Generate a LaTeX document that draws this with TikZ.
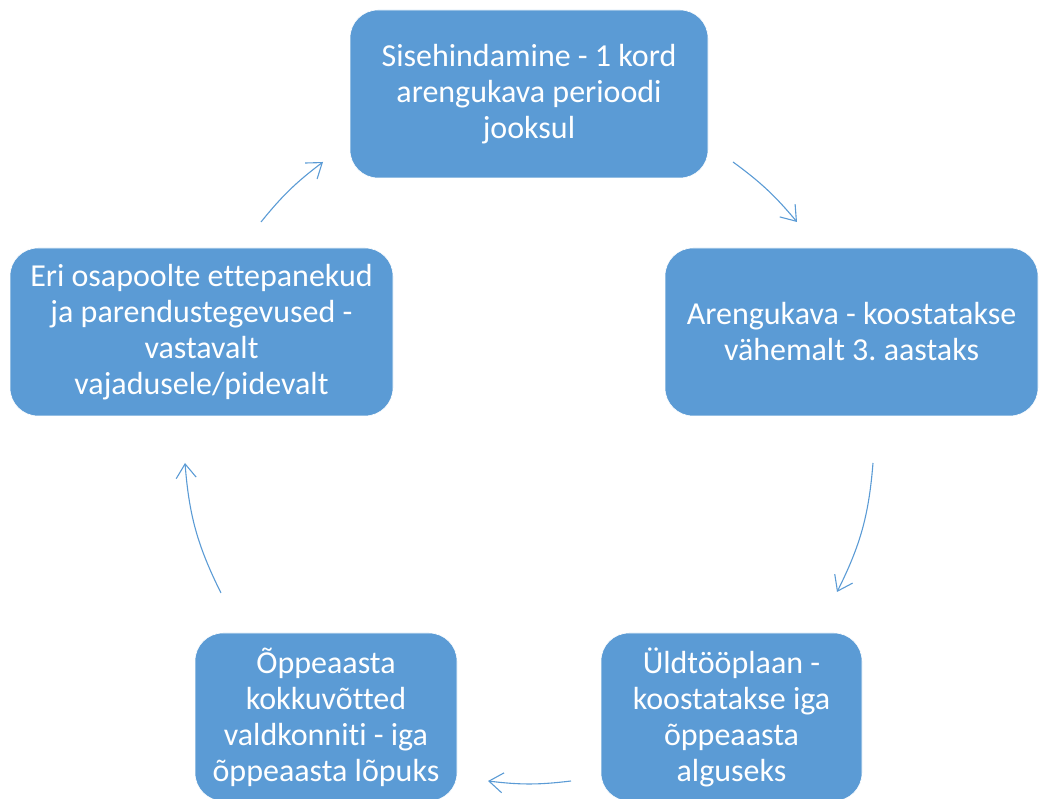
\documentclass[tikz,border=0pt]{standalone}
\usepackage{fontspec}
\setmainfont{Carlito}[Ligatures=NoCommon]
\usepackage{tikz}
\usetikzlibrary{arrows.meta,positioning}
\frenchspacing

\definecolor{boxblue}{HTML}{5B9BD5}

\begin{document}
\begin{tikzpicture}[x=1pt,y=1pt,on grid,
   stage/.style={rectangle,rounded corners=28pt,fill=boxblue,draw=white,line width=0.6pt,
      text=white,align=center,minimum height=168pt,
      font=\fontsize{32}{36}\selectfont},
   flow/.style={boxblue,line width=1.1pt,-{Straight Barb[length=14pt,width=20pt]}}]
   \useasboundingbox (0,0) rectangle (1039,799);
   \node[stage,minimum width=358pt] (sise) at (529,705) {Sisehindamine - 1 kord\\arengukava perioodi\\jooksul};
   \node[stage,minimum width=373pt] (aren) [below right=238pt and 322.5pt of sise] {Arengukava - koostatakse\\vähemalt 3. aastaks};
   \node[stage,minimum width=261pt] (yld) [below left=385pt and 120pt of aren] {Üldtööplaan -\\koostatakse iga\\õppeaasta\\alguseks};
   \node[stage,minimum width=262pt] (kokku) [left=405.5pt of yld] {Õppeaasta\\kokkuvõtted\\valdkonniti - iga\\õppeaasta lõpuks};
   \node[stage,minimum width=383pt] (eri) [above left=385pt and 124.5pt of kokku] {Eri osapoolte ettepanekud\\ja parendustegevused -\\vastavalt\\vajadusele/pidevalt};
   % arrow ends
   \coordinate (a1) at (733,637);  \coordinate (b1) at (797,577);
   \coordinate (a2) at (873,336);  \coordinate (b2) at (837,207);
   \coordinate (a3) at (571,18);   \coordinate (b3) at (488,18);
   \coordinate (a4) at (221,206);  \coordinate (b4) at (185,336);
   \coordinate (a5) at (261,577);  \coordinate (b5) at (323,637);
    \path[flow]
    (a1) edge[bend left=7] (b1)
    (a2) edge[bend left=11] (b2)
    (a3) edge[bend left=7] (b3)
    (a4) edge[bend left=11] (b4)
    (a5) edge[bend left=7] (b5);
\end{tikzpicture}
\end{document}
